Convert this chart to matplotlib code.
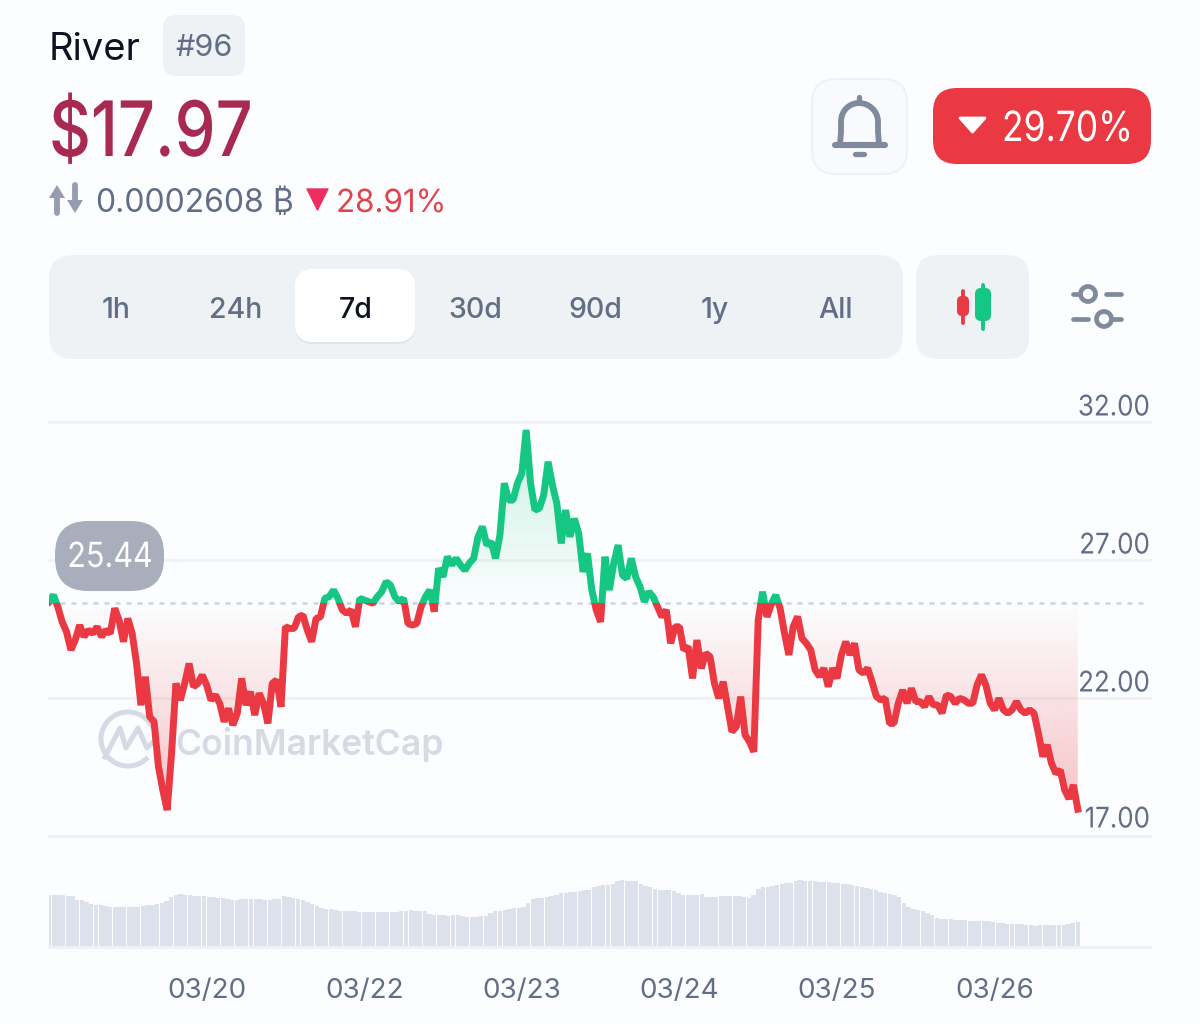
import numpy as np
import matplotlib
matplotlib.use('Agg')
import matplotlib.pyplot as plt
from matplotlib.patches import FancyBboxPatch, Rectangle, Polygon, Circle, PathPatch
from matplotlib.path import Path
from matplotlib.patheffects import AbstractPathEffect
from matplotlib.transforms import Affine2D

plt.rcParams['font.family'] = ['Inter', 'DejaVu Sans']

# price, one reading every 40 minutes
prices = [25.49,25.73,25.31,24.76,24.40,23.74,24.10,24.64,24.22,24.46,
          24.34,24.58,24.22,24.46,24.34,25.25,24.82,24.04,24.88,24.34,
          23.25,21.74,22.77,21.32,21.14,19.51,18.66,17.94,20.00,22.53,
          21.92,22.53,23.25,22.41,22.53,22.83,22.47,21.92,22.11,21.80,
          21.14,21.62,21.02,21.44,22.71,21.74,22.23,21.38,22.17,21.80,
          21.08,22.53,22.65,21.68,24.58,24.52,24.52,24.94,25.00,24.46,
          24.04,24.88,24.94,25.61,25.67,25.91,25.61,25.19,25.07,25.19,
          24.58,25.61,25.55,25.49,25.43,25.67,25.85,26.21,26.09,25.67,
          25.49,25.61,24.70,24.64,24.70,25.31,25.67,25.91,25.13,26.70,
          26.39,27.12,26.82,27.06,26.82,26.63,26.88,27.06,27.84,28.21,
          27.54,27.66,27.06,27.90,29.78,29.17,29.17,29.78,30.14,31.71,
          29.78,28.81,28.87,29.35,30.56,29.71,29.05,27.60,28.81,27.84,
          28.50,27.96,26.57,27.24,25.91,25.19,24.76,27.12,25.91,26.88,
          27.54,26.45,26.33,27.06,26.39,26.03,25.49,25.85,25.67,25.31,
          24.94,25.19,23.98,24.58,24.58,23.74,23.86,22.71,24.10,23.07,
          23.62,23.50,22.53,21.99,22.59,21.68,20.78,20.96,22.05,20.66,
          20.42,20.05,24.82,25.85,24.94,25.40,25.73,25.25,24.35,23.56,
          24.59,24.95,24.16,23.98,23.74,23.02,22.78,23.08,22.41,23.08,
          22.71,23.56,24.04,23.56,23.98,23.02,22.90,23.08,22.59,22.05,
          21.93,21.99,21.08,21.08,21.81,22.29,21.81,22.35,21.87,21.87,
          21.69,22.05,21.75,21.75,21.45,22.11,22.05,21.81,21.99,21.93,
          21.81,21.81,22.47,22.84,22.47,21.81,21.57,21.99,21.57,21.45,
          21.57,21.87,21.57,21.45,21.57,21.45,20.72,19.88,20.30,19.63,
          19.27,19.39,18.67,18.35,18.85,17.97]
base_price = 25.44

# volume, no scale on the picture so the units are arbitrary
volume = [52.3,52.2,52,51.8,51.3,50.8,47.5,46.8,45.5,43.5,42.5,41.8,40.8,40.2,40,40,40,39.9,39.9,39.6,
          41.3,42,42.5,43,44,46.5,50,52.5,53,52.5,52,51.5,51.3,51,50.5,50,49.5,48.7,48,47.5,
          47,48.5,48.5,48.5,48.3,48,47,46.7,48,48,51,50,48.7,47.7,46.7,45,43.5,41.5,39.5,38,
          37.7,37,36,36,35.7,35.7,35.5,35.5,35.3,35.3,35.2,35,35,35,35,36,36.5,36.7,36.3,36,
          35.8,33.5,32,31.7,31.7,31.5,31.8,31.7,30.8,30.3,29.7,30,31,31.3,34,36.5,35.7,37,38.5,39,
          39.5,40.5,44,48.5,49.3,49.5,50,50.7,52,54,54.3,54.7,55.3,55.7,56.7,57.5,60,61.3,
          62.3,62.5,63,66.5,66.7,66.5,66,65.7,63.5,61.3,60.5,58,57.3,57,56.7,56.3,54,52.5,52,52,
          52,52.7,50.5,50.3,50.5,50.7,51,51,51,51.5,50.5,49.5,52.3,58,60,60.5,60.7,62,63,63.7,
          64.3,66,66.7,66.5,66.3,65.7,65.5,65.3,65,64.3,64,63.5,63,62.3,61.5,60.5,59.3,58,56.7,55.3,
          54.5,52.7,51.7,50,44.3,40,38,37.3,36,34,31.7,29.3,28,28,27.7,27.3,27,26.7,26.3,26.3,
          26,26,26,24.7,24,23.7,23.5,23.5,23.3,23,22,21.7,21.3,21.7,21.7,21.7,22,22,22.3,23.3,
          24.3,25.5]

y_ticks = [32, 27, 22, 17]
y_labels = ['32.00', '27.00', '22.00', '17.00']
x_ticks = [24, 48, 72, 96, 120, 144]
x_labels = ['03/20', '03/22', '03/23', '03/24', '03/25', '03/26']
ranges = ['1h', '24h', '7d', '30d', '90d', '1y', 'All']

RED = '#ea3943'
GREEN = '#16c784'
GREY = '#616e85'
ICON = '#808a9d'
PANEL = '#eff2f5'
BG = '#fcfdfe'
W, H = 1200, 1024


class Squeeze(AbstractPathEffect):
    # narrower glyphs around a given pixel column, Inter is wider than the app font
    def __init__(self, sx, x0):
        super().__init__()
        self.sx = sx
        self.x0 = x0

    def draw_path(self, renderer, gc, tpath, affine, rgbFace=None):
        t = affine + Affine2D().translate(-self.x0, 0).scale(self.sx, 1).translate(self.x0, 0)
        renderer.draw_path(gc, tpath, t, rgbFace)


def px_axes(x0, y0, x1, y1, z):
    ax = fig.add_axes([x0 / W, 1 - y1 / H, (x1 - x0) / W, (y1 - y0) / H], zorder=z)
    ax.patch.set_alpha(0)
    return ax


def rbox(ax, x0, y0, x1, y1, r, fc, ec='none', lw=0, z=1):
    ax.add_patch(FancyBboxPatch((x0, y0), x1 - x0, y1 - y0, boxstyle='round,pad=0,rounding_size=%g' % r,
                                fc=fc, ec=ec, lw=lw, zorder=z))


fig = plt.figure(figsize=(12, 10.24), dpi=100, facecolor=BG)

bg = px_axes(0, 0, W, H, 0)
bg.set_xlim(0, W)
bg.set_ylim(H, 0)
bg.axis('off')
ui = px_axes(0, 0, W, H, 3)
ui.set_xlim(0, W)
ui.set_ylim(H, 0)
ui.axis('off')

# watermark
wm = '#d5dae4'
ang = np.radians(np.linspace(48, 330, 80))
bg.plot(128 + 27 * np.cos(ang), 739 + 27 * np.sin(ang), color=wm, lw=3.6)
bg.plot([105, 120, 126, 138, 147, 154], [757, 728, 748, 728, 748, 741], color=wm, lw=3.6)
bg.text(175, 745, 'CoinMarketCap', color=wm, fontsize=25.6, fontweight='semibold', va='center', ha='left')

# price chart
times = np.arange(len(prices)) * 2 / 3
prices = np.array(prices)
t_end = 1101 / (157.6 / 24)

ax = px_axes(49, 422, 1150, 836, 1)
ax.set_xlim(0, t_end)
ax.set_ylim(17, 32)
for s in ax.spines.values():
    s.set_visible(False)
ax.set_xticks([])
ax.set_yticks(y_ticks)
ax.set_yticklabels([])
ax.tick_params(length=0)
for v in y_ticks:
    ax.plot([0, t_end], [v, v], color=PANEL, lw=2, zorder=1, clip_on=False)
for v, lab in zip(y_ticks, y_labels):
    off = 16 if v == 17 else 14
    t = ax.annotate(lab, (t_end, v), xytext=(0, off * 0.72), textcoords='offset points', ha='right', va='center',
                    color=GREY, fontsize=20.5, annotation_clip=False)
    t.set_path_effects([Squeeze(0.91, 1150)])

verts = np.vstack([[times[0], base_price], np.column_stack([times, prices]), [times[-1], base_price]])
clip_poly = Path(verts, closed=False)


def gradient(colour, y0, y1, a0, a1):
    rgba = np.zeros((256, 1, 4))
    rgba[..., :3] = matplotlib.colors.to_rgb(colour)
    rgba[:, 0, 3] = np.linspace(a0, a1, 256)
    im = ax.imshow(rgba, extent=[times[0], times[-1], y0, y1], origin='lower', aspect='auto', zorder=2)
    im.set_clip_path(PathPatch(clip_poly, transform=ax.transData))


gradient(RED, 17, base_price, 0.34, 0.0)
gradient(GREEN, base_price, 32, 0.0, 0.24)
ax.set_xlim(0, t_end)
ax.set_ylim(17, 32)

ax.plot([0, 1094 / 1101 * t_end], [base_price, base_price], color='#cdd2df', lw=1.8, ls=(0, (2.0, 2.4)), zorder=3)

red_line, = ax.plot(times, prices, color=RED, lw=5, solid_joinstyle='bevel', zorder=4)
green_line, = ax.plot(times, prices, color=GREEN, lw=5, solid_joinstyle='bevel', zorder=4)
red_line.set_clip_path(Rectangle((0, 16), t_end, base_price - 16, transform=ax.transData))
green_line.set_clip_path(Rectangle((0, base_price), t_end, 8, transform=ax.transData))

# volume bars
vol = px_axes(49, 860, 1150, 947, 1)
vol.bar(np.linspace(times[0], times[-1], len(volume)), volume, width=0.66, color='#dde1ec', zorder=2)
vol.set_xlim(0, t_end)
vol.set_ylim(0, 87)
for s in vol.spines.values():
    s.set_visible(False)
vol.spines['bottom'].set_visible(True)
vol.spines['bottom'].set_color(PANEL)
vol.spines['bottom'].set_linewidth(2)
vol.set_yticks([])
vol.set_xticks(x_ticks)
vol.set_xticklabels(x_labels, color=GREY, fontsize=20)
vol.tick_params(axis='x', length=0, pad=22.5)

# header
ui.text(49, 60, 'River', color='#0d1421', fontsize=27.5, va='baseline', ha='left')
rbox(ui, 163, 15, 245, 76, 13, PANEL)
ui.text(204.5, 48, '#96', color=GREY, fontsize=22, va='center', ha='center')
ui.text(49, 156, '$17.97', color='#a82a50', fontsize=55, fontweight='medium', va='baseline', ha='left',
        path_effects=[Squeeze(0.85, 49)])

# up/down icon
ui.add_patch(Polygon([[49, 198], [57, 185], [65, 198]], fc='#959eb0', ec='none'))
ui.plot([57, 57], [192, 213], color='#959eb0', lw=4.2, solid_capstyle='round')
ui.add_patch(Polygon([[67, 200], [75, 213], [83, 200]], fc='#959eb0', ec='none'))
ui.plot([75, 75], [185, 206], color='#959eb0', lw=4.2, solid_capstyle='round')
ui.text(95, 212, '0.0002608', color=GREY, fontsize=23, va='baseline', ha='left')
ui.text(272, 212, '\u20bf', color=GREY, fontsize=23, va='baseline', ha='left')
ui.add_patch(Polygon([[307, 189], [328, 189], [317.5, 210]], fc='#ec2f62', ec='#ec2f62', lw=1, joinstyle='round'))
ui.text(336, 212, '28.91%', color='#e0444d', fontsize=23, va='baseline', ha='left',
        path_effects=[Squeeze(0.98, 336)])

# bell button
rbox(ui, 812, 79, 907, 174, 24, '#f8fafd', PANEL, 1.5)
bell = Path([(840, 144), (841, 132), (841, 122), (841, 110), (850, 103), (859, 103), (868, 103), (878, 110), (878, 122),
             (878, 132), (879, 144)],
            [Path.MOVETO, Path.LINETO, Path.LINETO, Path.CURVE4, Path.CURVE4, Path.CURVE4, Path.CURVE4, Path.CURVE4,
             Path.CURVE4, Path.LINETO, Path.LINETO])
ui.add_patch(PathPatch(bell, fc='none', ec=ICON, lw=4.2, capstyle='round'))
ui.plot([835, 885], [145, 145], color=ICON, lw=4.4, solid_capstyle='round')
ui.plot([859, 859], [97, 103], color=ICON, lw=3.8, solid_capstyle='round')
ui.plot([855, 864], [154, 154], color=ICON, lw=3.8, solid_capstyle='round')

# change badge
rbox(ui, 933, 88, 1151, 164, 24, RED)
ui.add_patch(Polygon([[960, 118], [985, 118], [972.5, 132]], fc='white', ec='white', lw=2, joinstyle='round'))
ui.text(1002, 130, '29.70%', color='white', fontsize=30, va='center', ha='left',
        path_effects=[Squeeze(0.85, 1002)])

# range selector
rbox(ui, 49, 255, 903, 359, 24, PANEL)
rbox(ui, 295, 271, 415, 344, 18, '#dfe3ea')
rbox(ui, 295, 269, 415, 342, 18, 'white')
for lab, cx in zip(ranges, [116, 236, 356, 475, 595, 715, 836]):
    ui.text(cx, 310, lab, color='#0d1421' if lab == '7d' else GREY, fontsize=20.5, fontweight='medium',
            va='center', ha='center')

# chart type button
rbox(ui, 916, 255, 1029, 359, 22, PANEL)
ui.plot([963, 963], [291, 323], color=RED, lw=2.8, solid_capstyle='round')
rbox(ui, 957, 296, 969, 316, 5, RED, z=3)
ui.plot([983, 983], [285, 329], color=GREEN, lw=2.8, solid_capstyle='round')
rbox(ui, 975, 288, 991, 321, 6, GREEN, z=3)

# settings icon
ui.plot([1073, 1079], [294, 294], color=ICON, lw=3.4, solid_capstyle='round')
ui.plot([1106, 1121], [294, 294], color=ICON, lw=3.4, solid_capstyle='round')
ui.plot([1073, 1088], [319, 319], color=ICON, lw=3.4, solid_capstyle='round')
ui.plot([1113, 1121], [319, 319], color=ICON, lw=3.4, solid_capstyle='round')
ui.add_patch(Circle((1088, 294), 7.5, fc='none', ec=ICON, lw=3.4))
ui.add_patch(Circle((1104, 319), 7.5, fc='none', ec=ICON, lw=3.4))

# baseline pill
rbox(ui, 55, 521, 164, 591, 33, '#a9aebd')
ui.text(110, 558, '25.44', color='white', fontsize=25, va='center', ha='center',
        path_effects=[Squeeze(0.88, 110)])

fig.savefig('out.png', dpi=100, facecolor=BG)
